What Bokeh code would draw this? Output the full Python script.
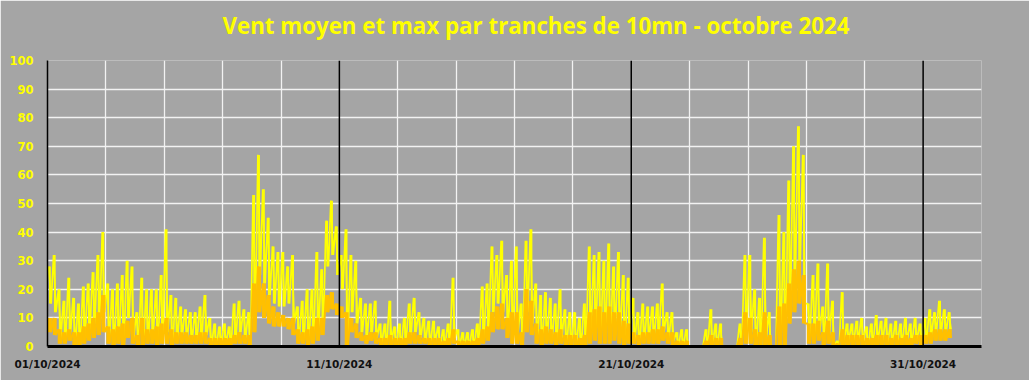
from bokeh.plotting import figure
from bokeh.models import FixedTicker, Span, Range1d, ColumnDataSource, Title
from bokeh.embed import file_html
from bokeh.resources import INLINE

# ---- data (km/h): 6 slots of 4 h per day, 01/10 -> 31/10
tick_days = [0, 10, 20, 30]
tick_labels = ["01/10/2024", "11/10/2024", "21/10/2024", "31/10/2024"]

# max gust: peak and trough in each 4 h slot
gust_hi = [
    28, 32, 20, 16, 24, 17,   15, 21, 22, 26, 32, 40,   22, 20, 22, 25, 30, 28,
    12, 24, 20, 20, 20, 25,   41, 18, 17, 14, 13, 12,   12, 14, 18, 10, 8, 7,
    8, 7, 15, 16, 13, 12,     53, 67, 55, 45, 35, 33,   33, 28, 32, 14, 16, 20,
    20, 33, 27, 44, 51, 42,   32, 41, 32, 30, 17, 15,   15, 16, 8, 8, 16, 7,
    8, 10, 15, 17, 12, 10,    9, 9, 7, 6, 8, 24,        6, 5, 5, 6, 8, 21,
    22, 35, 32, 37, 25, 30,   35, 15, 37, 41, 22, 18,   19, 17, 15, 20, 13, 12,
    12, 10, 15, 35, 32, 33,   30, 36, 28, 33, 25, 24,   17, 12, 15, 14, 14, 15,
    22, 12, 12, 5, 6, 6,      0, 0, 0, 6, 13, 8,        8, 0, 0, 0, 8, 32,
    32, 20, 17, 38, 12, 0,    46, 40, 58, 70, 77, 67,   15, 25, 29, 14, 29, 16,
    2, 19, 8, 8, 9, 10,       7, 8, 11, 9, 10, 8,       9, 8, 10, 8, 10, 8,
    10, 13, 12, 16, 13, 12,
]
gust_lo = [
    15, 12, 3, 2, 5, 0,       0, 3, 6, 8, 10, 12,       2, 0, 2, 0, 10, 3,
    0, 0, 2, 4, 0, 2,         5, 0, 3, 4, 3, 2,         2, 3, 4, 0, 0, 1,
    1, 0, 3, 5, 3, 0,         10, 25, 22, 18, 15, 14,   14, 15, 8, 2, 2, 0,
    3, 5, 8, 28, 32, 25,      20, 0, 12, 8, 5, 4,       5, 3, 1, 0, 2, 0,
    0, 2, 4, 5, 3, 2,         1, 2, 0, 0, 1, 3,         0, 0, 0, 0, 0, 3,
    5, 12, 15, 12, 5, 3,      5, 0, 12, 8, 2, 0,        3, 2, 1, 3, 0, 0,
    0, 0, 0, 3, 5, 2,         3, 2, 5, 3, 0, 3,         2, 0, 2, 3, 3, 4,
    5, 3, 2, 0, 0, 0,         0, 0, 0, 0, 0, 0,         0, 0, 0, 0, 0, 5,
    5, 0, 0, 2, 0, 0,         0, 0, 15, 22, 30, 15,     3, 3, 5, 2, 4, 0,
    0, 0, 2, 1, 2, 2,         0, 1, 2, 2, 1, 1,         1, 1, 2, 1, 2, 1,
    2, 4, 5, 5, 5, 6,
]
# mean wind: peak and trough in each 4 h slot
mean_hi = [
    10, 10, 6, 5, 6, 5,       5, 7, 8, 10, 12, 18,      7, 6, 7, 8, 9, 10,
    4, 10, 6, 6, 7, 8,        10, 6, 5, 5, 5, 4,        4, 5, 5, 3, 3, 3,
    3, 3, 4, 5, 4, 4,         22, 28, 22, 18, 14, 12,   11, 10, 10, 6, 5, 6,
    7, 10, 10, 18, 19, 15,    14, 12, 10, 8, 5, 4,      5, 5, 3, 3, 4, 3,
    3, 3, 5, 5, 4, 3,         3, 3, 3, 2, 3, 6,         2, 2, 2, 2, 3, 6,
    7, 12, 14, 15, 10, 12,    12, 5, 20, 16, 8, 6,      7, 6, 5, 6, 4, 4,
    4, 3, 4, 12, 13, 14,      12, 14, 12, 12, 9, 8,     5, 4, 5, 5, 6, 6,
    7, 5, 5, 2, 2, 2,         0, 0, 0, 2, 4, 3,         3, 0, 0, 0, 3, 12,
    10, 6, 5, 12, 4, 0,       14, 15, 22, 27, 30, 25,   8, 8, 9, 5, 9, 5,
    1, 6, 4, 4, 4, 4,         3, 3, 4, 4, 4, 3,         4, 3, 4, 3, 4, 4,
    4, 5, 6, 6, 6, 6,
]
mean_lo = [
    5, 4, 1, 1, 2, 0,         0, 1, 2, 3, 4, 5,         1, 0, 1, 0, 3, 1,
    0, 0, 1, 1, 0, 1,         1, 0, 1, 1, 1, 1,         1, 1, 1, 0, 0, 0,
    0, 0, 1, 1, 1, 0,         5, 12, 10, 8, 7, 7,       7, 6, 4, 1, 1, 0,
    1, 2, 4, 12, 13, 11,      10, 0, 5, 3, 2, 1,        2, 1, 0, 0, 0, 0,
    0, 0, 1, 1, 1, 1,         0, 0, 0, 0, 0, 1,         0, 0, 0, 0, 0, 1,
    2, 5, 6, 6, 3, 1,         1, 0, 5, 4, 1, 0,         1, 1, 0, 1, 0, 0,
    0, 0, 0, 1, 2, 1,         1, 1, 2, 1, 0, 1,         1, 0, 1, 1, 1, 1,
    2, 1, 0, 0, 0, 0,         0, 0, 0, 0, 0, 0,         0, 0, 0, 0, 0, 1,
    1, 0, 0, 0, 0, 0,         0, 0, 8, 12, 15, 8,       1, 1, 2, 0, 1, 0,
    0, 0, 0, 0, 0, 0,         0, 0, 0, 0, 0, 0,         0, 0, 0, 0, 1, 0,
    1, 1, 2, 2, 2, 3,
]

# ---- build series
slot = 1.0 / 6.0
tc = [i * slot + slot / 2 for i in range(len(gust_hi))]
bars = ColumnDataSource(dict(t=tc, ghi=gust_hi, glo=gust_lo, mhi=mean_hi, mlo=mean_lo))
t, gust, mean = [], [], []
for i in range(len(gust_hi)):
    t += [i * slot + slot * 0.25, i * slot + slot * 0.75]
    gust += [gust_hi[i], gust_lo[i]]
    mean += [mean_hi[i], mean_lo[i]]
src = ColumnDataSource(dict(t=t, gust=gust, mean=mean))

BG = "#a5a5a5"
YEL = "#ffff00"
ORA = "#ffc000"
p = figure(width=1029, height=380, output_backend="svg", toolbar_location=None, title=None,
           x_range=Range1d(0, 32), y_range=Range1d(0, 100),
           min_border_left=47, min_border_right=48, min_border_top=60, min_border_bottom=34)
p.background_fill_color = BG
p.border_fill_color = BG
p.outline_line_color = None

# spacer (nearest to the frame), then the real title above it
p.add_layout(Title(text=" ", text_font_size="3px"), "above")
p.add_layout(Title(text="Vent moyen et max par tranches de 10mn - octobre 2024",
                   align="left", offset=175, text_font="Open Sans", text_font_style="bold",
                   text_font_size="22.3px", text_color=YEL), "above")

# grids
p.xgrid.ticker = FixedTicker(ticks=[d for d in range(2, 33, 2) if d not in (10, 20, 30)])
p.ygrid.ticker = FixedTicker(ticks=list(range(10, 101, 10)))
for g in (p.xgrid, p.ygrid):
    g.grid_line_color = "#f2f2f2"
    g.grid_line_width = 1.3

for d in (10, 20, 30):
    p.add_layout(Span(location=d, dimension="height", line_color="black", line_width=1.5))

p.vbar(x="t", bottom="glo", top="ghi", width=slot * 0.35, source=bars,
       fill_color=YEL, line_color=None)
p.line("t", "gust", source=src, line_color=YEL, line_width=1.7)
p.vbar(x="t", bottom="mlo", top="mhi", width=slot * 0.8, source=bars,
       fill_color=ORA, line_color=None)
p.line("t", "mean", source=src, line_color=ORA, line_width=2)

# axes
p.xaxis.ticker = FixedTicker(ticks=tick_days)
p.xaxis.major_label_overrides = {d: l for d, l in zip(tick_days, tick_labels)}
p.yaxis.ticker = FixedTicker(ticks=list(range(0, 101, 10)))
for ax in (p.xaxis, p.yaxis):
    ax.major_tick_line_color = None
    ax.minor_tick_line_color = None
    ax.major_tick_out = 0
    ax.major_tick_in = 0
    ax.minor_tick_out = 0
    ax.minor_tick_in = 0
    ax.axis_line_color = "black"
    ax.major_label_text_font = "DejaVu Sans"
    ax.major_label_text_font_style = "bold"
p.xaxis.axis_line_width = 3
p.yaxis.axis_line_width = 1.5
p.xaxis.major_label_text_color = "#111111"
p.xaxis.major_label_text_font_size = "10.5px"
p.xaxis.major_label_standoff = 11
p.yaxis.major_label_text_color = YEL
p.yaxis.major_label_text_font_size = "11.5px"
p.yaxis.major_label_standoff = 14

open("out.html", "w").write(file_html(p, INLINE))
